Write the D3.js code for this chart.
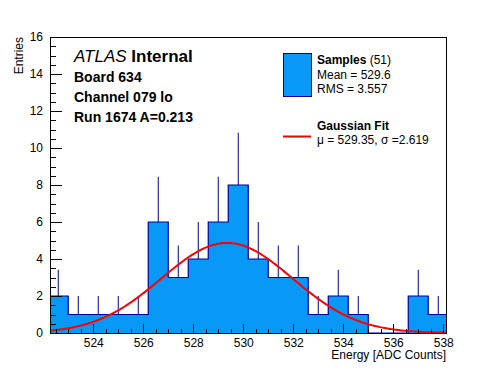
<!DOCTYPE html>
<html>
<head>
<meta charset="utf-8">
<script src="https://cdn.jsdelivr.net/npm/d3@7"></script>
<style>
  body { margin: 0; background: #fff; }
  svg { display: block; font-family: "Liberation Sans", Arial, Helvetica, sans-serif; }
</style>
</head>
<body>
<svg id="chart" width="496" height="372"></svg>
<script>
// histogram bins (left edges, width 0.8 ADC counts)
const binEdges = [522.2, 523.0, 523.8, 524.6, 525.4, 526.2, 527.0, 527.8, 528.6, 529.4,
                  530.2, 531.0, 531.8, 532.6, 533.4, 534.2, 535.0, 535.8, 536.6, 537.4, 538.2];
const counts = [2, 1, 1, 1, 1, 6, 3, 4, 6, 8, 4, 3, 3, 1, 2, 1, 0, 0, 2, 1];

// gaussian fit result
const fitMu = 529.35;
const fitSigma = 2.619;
const fitAmp = 4.87;

const xTicks = [524, 526, 528, 530, 532, 534, 536, 538];
const yTicks = [0, 2, 4, 6, 8, 10, 12, 14, 16];

const infoLines = ['Board 634', 'Channel 079 lo', 'Run 1674 A=0.213'];
const legendStats = ['Mean = 529.6', 'RMS = 3.557'];
const nSamples = 51;

const fillColor = '#0898f5';
const lineColor = '#00009c';

const svg = d3.select('#chart');
const frame = { left: 50, right: 446, top: 37, bottom: 333 };

const x = d3.scaleLinear().domain([522.27, 538.11]).range([frame.left, frame.right]);
const y = d3.scaleLinear().domain([0, 16]).range([frame.bottom, frame.top]);

svg.append('rect').attr('width', 496).attr('height', 372).attr('fill', '#fff');

svg.append('defs').append('clipPath').attr('id', 'clip')
  .append('rect')
  .attr('x', frame.left).attr('y', frame.top)
  .attr('width', frame.right - frame.left).attr('height', frame.bottom - frame.top);

const plot = svg.append('g').attr('clip-path', 'url(#clip)');

const bins = counts.map((c, i) => ({ x0: binEdges[i], x1: binEdges[i + 1], n: c }));

// histogram as one step contour, filled and outlined
const pts = [[binEdges[0], 0]];
bins.forEach(d => { pts.push([d.x0, d.n]); pts.push([d.x1, d.n]); });
pts.push([binEdges[binEdges.length - 1], 0]);
const step = d3.line().x(p => x(p[0])).y(p => y(p[1]));
plot.append('path')
  .attr('d', step(pts) + 'Z')
  .attr('fill', fillColor)
  .attr('stroke', 'none');
plot.append('path')
  .attr('d', step(pts))
  .attr('fill', 'none')
  .attr('stroke', lineColor)
  .attr('stroke-width', 1.2);

// statistical error bars (upper half only visible)
plot.selectAll('line.err')
  .data(bins.filter(d => d.n > 0))
  .enter().append('line')
    .attr('x1', d => x((d.x0 + d.x1) / 2))
    .attr('x2', d => x((d.x0 + d.x1) / 2))
    .attr('y1', d => y(d.n))
    .attr('y2', d => y(d.n + Math.sqrt(d.n)))
    .attr('stroke', lineColor)
    .attr('stroke-width', 1);

// fit curve
const gauss = v => fitAmp * Math.exp(-0.5 * Math.pow((v - fitMu) / fitSigma, 2));
const xs = d3.range(522.27, 538.12, 0.05);
plot.append('path')
  .attr('d', d3.line().x(v => x(v)).y(v => y(gauss(v)))(xs))
  .attr('fill', 'none')
  .attr('stroke', '#ff0000')
  .attr('stroke-width', 2);

// frame
svg.append('rect')
  .attr('x', frame.left).attr('y', frame.top)
  .attr('width', frame.right - frame.left).attr('height', frame.bottom - frame.top)
  .attr('fill', 'none').attr('stroke', '#000').attr('stroke-width', 1)
  .attr('shape-rendering', 'crispEdges');

// axes, ticks pointing inward (ROOT style)
const xMinor = d3.range(522.5, 538.1, 0.5).filter(v => xTicks.indexOf(v) < 0);
const yMinor = d3.range(0.5, 16, 0.5).filter(v => yTicks.indexOf(v) < 0);

const gx = svg.append('g').attr('transform', `translate(0,${frame.bottom})`);
gx.call(d3.axisBottom(x).tickValues(xTicks).tickSize(-9).tickPadding(5).tickFormat(d3.format('d')));
gx.append('g').call(d3.axisBottom(x).tickValues(xMinor).tickSize(-4.5).tickFormat(''));

const gy = svg.append('g').attr('transform', `translate(${frame.left},0)`);
gy.call(d3.axisLeft(y).tickValues(yTicks).tickSize(-12).tickPadding(7).tickFormat(d3.format('d')));
gy.append('g').call(d3.axisLeft(y).tickValues(yMinor).tickSize(-6).tickFormat(''));

svg.selectAll('.domain').remove();
svg.selectAll('.tick line').attr('stroke', '#000').attr('shape-rendering', 'crispEdges');
svg.selectAll('.tick text').attr('font-size', 12).attr('font-family', 'Liberation Sans, Arial, sans-serif').attr('fill', '#000');

// axis titles
svg.append('text')
  .attr('x', frame.right).attr('y', 359)
  .attr('text-anchor', 'end').attr('font-size', 12)
  .text('Energy [ADC Counts]');
svg.append('text')
  .attr('transform', `translate(23,${frame.top}) rotate(-90)`)
  .attr('text-anchor', 'end').attr('font-size', 12)
  .text('Entries');

// ATLAS label and run info
const atlas = svg.append('text').attr('x', 74).attr('y', 62).attr('font-size', 17);
atlas.append('tspan').attr('font-style', 'italic').text('ATLAS');
atlas.append('tspan').attr('font-weight', 'bold').text(' Internal');
svg.selectAll('text.info')
  .data(infoLines)
  .enter().append('text')
    .attr('class', 'info')
    .attr('x', 74).attr('y', (d, i) => 82 + i * 20)
    .attr('font-size', 14).attr('font-weight', 'bold')
    .text(d => d);

// legend
const lg = svg.append('g');
lg.append('rect')
  .attr('x', 283.5).attr('y', 53.5).attr('width', 28).attr('height', 43)
  .attr('fill', fillColor).attr('stroke', lineColor).attr('stroke-width', 1);
const t1 = lg.append('text').attr('x', 317).attr('y', 64).attr('font-size', 12);
t1.append('tspan').attr('font-weight', 'bold').text('Samples');
t1.append('tspan').text(` (${nSamples})`);
lg.selectAll('text.stat')
  .data(legendStats)
  .enter().append('text')
    .attr('class', 'stat')
    .attr('x', 317).attr('y', (d, i) => 79 + i * 14)
    .attr('font-size', 12)
    .text(d => d);
lg.append('line')
  .attr('x1', 283).attr('x2', 311).attr('y1', 136.5).attr('y2', 136.5)
  .attr('stroke', '#ff0000').attr('stroke-width', 2);
lg.append('text').attr('x', 317).attr('y', 130).attr('font-size', 12).attr('font-weight', 'bold')
  .text('Gaussian Fit');
lg.append('text').attr('x', 317).attr('y', 144).attr('font-size', 12)
  .text(`\u03bc = ${fitMu}, \u03c3 =${fitSigma}`);
</script>
</body>
</html>
